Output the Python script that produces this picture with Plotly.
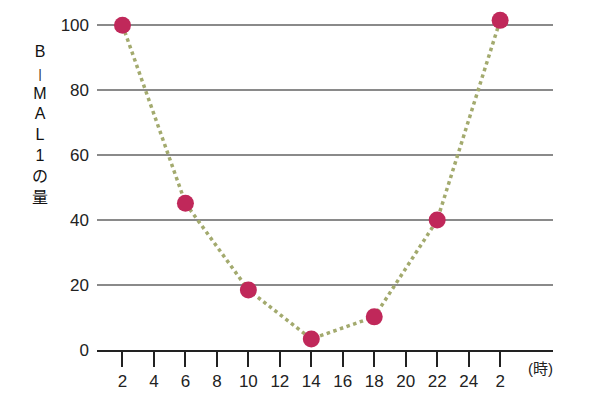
import plotly.graph_objects as go

# data
hours = [2, 6, 10, 14, 18, 22, 26]
bmal1 = [100, 45.2, 18.5, 3.4, 10.2, 40, 101.5]
tick_vals = [2, 4, 6, 8, 10, 12, 14, 16, 18, 20, 22, 24, 26]
tick_text = ["2", "4", "6", "8", "10", "12", "14", "16", "18", "20", "22", "24", "2"]
y_ticks = [0, 20, 40, 60, 80, 100]

font = "Liberation Sans, Arial, Noto Sans CJK JP"

fig = go.Figure()
fig.add_trace(go.Scatter(
    x=hours, y=bmal1,
    mode="lines+markers",
    line=dict(color="#a3aa6e", width=3.5, dash="dot"),
    marker=dict(color="#c0285a", size=17),
    showlegend=False,
    cliponaxis=False,
))

# page has an 8px body margin, so margins are shifted to compensate
fig.update_layout(
    width=600, height=400,
    margin=dict(l=89, r=55, t=1, b=58, autoexpand=False),
    plot_bgcolor="white",
    paper_bgcolor="white",
    font=dict(family=font, size=17, color="#222"),
)

fig.update_xaxes(
    range=[0.38, 29.36],
    tickvals=tick_vals, ticktext=tick_text,
    ticks="outside", ticklen=15, tickwidth=1.5, tickcolor="#222",
    showgrid=False, zeroline=False,
    showline=True, linecolor="#222", linewidth=2,
    automargin=False,
)
fig.update_yaxes(
    range=[0, 105],
    tickvals=y_ticks,
    showgrid=True, gridcolor="#8a8a8a", gridwidth=1.6,
    zeroline=False, showline=False,
    ticks="", ticklabelstandoff=7,
    automargin=False,
)

# time unit label
fig.add_annotation(
    x=0.9715, y=-0.053, xref="paper", yref="paper", text="(時)",
    xanchor="center", yanchor="middle",
    showarrow=False, font=dict(size=15),
)

# vertical axis title, one character per line
fig.add_annotation(
    x=-0.125, y=0.905, xref="paper", yref="paper",
    text="B<br><span style='font-size:12px'>|</span><br>M<br>A<br>L<br>1<br>の<br>量",
    showarrow=False, xanchor="center", yanchor="top",
    font=dict(size=16, color="#111", family="Liberation Sans, Noto Sans CJK JP"),
)

fig.write_html("out.html")
